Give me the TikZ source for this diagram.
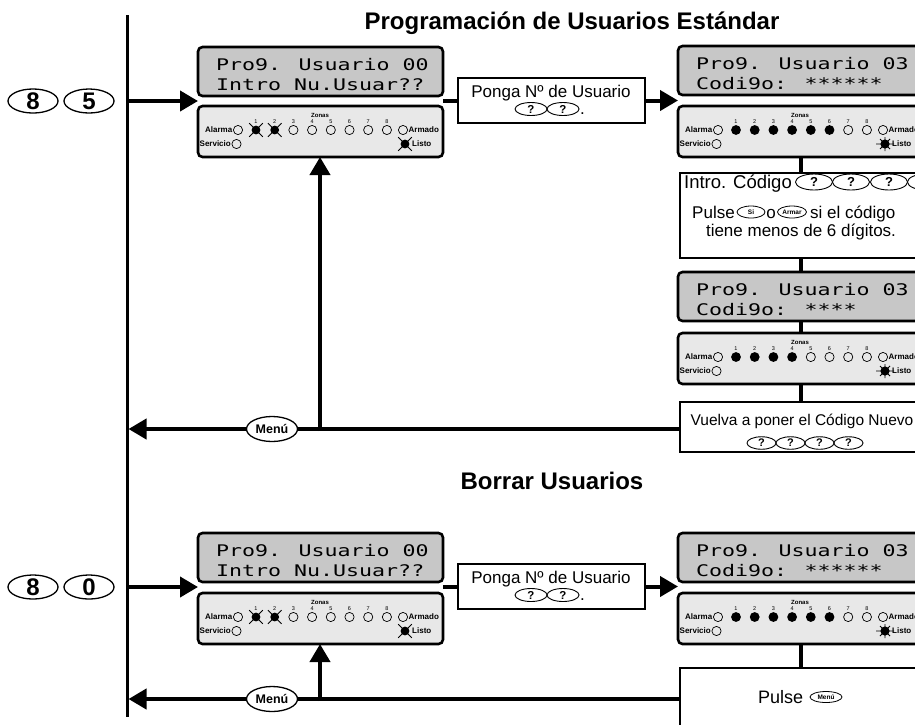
\documentclass[tikz,border=0pt]{standalone}
\usepackage{fontspec}
\setmainfont{Liberation Sans}
\newfontfamily\lcdfont{DejaVu Sans Mono}
\usepackage{graphicx}
\usetikzlibrary{arrows.meta,calc,shapes.geometric}

\tikzset{
  lcd/.style={draw=black, line width=2.6pt, fill=black!22, rounded corners=4.5pt,
    minimum width=245pt, minimum height=49pt, inner sep=0pt, outer sep=0pt, anchor=north west},
  ledp/.style={draw=black, line width=2.6pt, fill=black!9, rounded corners=4.5pt,
    minimum width=245pt, minimum height=51pt, inner sep=0pt, outer sep=0pt, anchor=north west},
  wbox/.style={draw=black, line width=1.3pt, fill=white, inner sep=0pt, outer sep=0pt, anchor=north west},
  keybtn/.style={ellipse, draw=black, line width=1.3pt, fill=white, inner sep=0pt,
    minimum width=50pt, minimum height=24pt, font=\bfseries\fontsize{24}{24}\selectfont},
  qkey/.style={ellipse, draw=black, line width=0.9pt, fill=white, inner sep=0pt,
    minimum width=32pt, minimum height=13pt, font=\bfseries\fontsize{11.5}{11.5}\selectfont},
  menukey/.style={ellipse, draw=black, line width=1.3pt, fill=white, inner sep=0pt,
    minimum width=51pt, minimum height=25pt, font=\bfseries\fontsize{12.5}{12.5}\selectfont},
  tinykey/.style={ellipse, draw=black, line width=0.8pt, fill=white, inner sep=0pt,
    minimum width=28pt, minimum height=12pt, font=\bfseries\fontsize{6.5}{6.5}\selectfont},
  btxt/.style={inner sep=0pt, anchor=base, font=\fontsize{17}{17}\selectfont},
  ttl/.style={inner sep=0pt, anchor=base, font=\bfseries\fontsize{24}{24}\selectfont},
  lcdtxt/.style={inner sep=0pt, anchor=base west, font=\lcdfont\fontsize{16}{16}\selectfont},
  bigarrow/.style={line width=4pt, -{Triangle[length=18pt,width=20pt]}},
  thickline/.style={line width=4pt},
  mainline/.style={line width=3pt},
  zonas/.style={inner sep=0pt, font=\bfseries\fontsize{6}{6}\selectfont},
  znum/.style={inner sep=0pt, font=\fontsize{5.5}{5.5}\selectfont},
  ledlab/.style={inner sep=0pt, font=\bfseries\fontsize{8}{8}\selectfont},
  lampline/.style={line width=0.7pt},
  rayline/.style={line width=0.9pt}
}

% lamp: x, y, state (0 open, 1 lit, 2 flashing, 3 lit with rays)
\newcommand{\lamp}[3]{%
  \ifcase#3\relax
    \draw[lampline] (#1,#2) circle[radius=4.6pt];%
  \or
    \fill (#1,#2) circle[radius=4.9pt];%
  \or
    \fill (#1,#2) circle[radius=4.4pt];%
    \draw[rayline,shift={(#1,#2)}] (-6.8pt,-6.8pt)--(6.8pt,6.8pt) (-6.8pt,6.8pt)--(6.8pt,-6.8pt);%
  \or
    \fill (#1,#2) circle[radius=4.6pt];%
    \draw[rayline,shift={(#1,#2)}] (-9pt,0pt)--(9pt,0pt) (0pt,-7pt)--(0pt,7pt)
      (-5pt,-5pt)--(5pt,5pt) (-5pt,5pt)--(5pt,-5pt);%
  \fi}

% LED panel content: panel name, 8 zone states, listo state
\newcommand{\ledstuff}[3]{%
  \begin{scope}[shift={(#1.north west)}]
    \node[zonas] (#1z) at (122,9) {Zonas};
    \foreach \st [count=\i] in {#2} {%
      \pgfmathsetmacro{\xx}{58+18.7*(\i-1)}%
      \node[znum] (#1n\i) at (\xx,16) {\i};%
      \lamp{\xx}{24}{\st}%
    }
    \node[ledlab,anchor=east] (#1al) at (34.5,24) {Alarma};
    \lamp{40}{24}{0}
    \node[ledlab,anchor=east] (#1sv) at (33,38) {Servicio};
    \lamp{38.5}{38}{0}
    \lamp{205}{24}{0}
    \node[ledlab,anchor=west] (#1ar) at (210.5,24) {Armado};
    \lamp{207}{38}{#3}
    \node[ledlab,anchor=west] (#1ls) at (214,38) {Listo};
  \end{scope}}

% LCD text: panel name, line 1, line 2
\newcommand{\lcdtext}[3]{%
  \node[lcdtxt] (#1a) at ($(#1.north west)+(18,23)$) {\scalebox{1.35}[1]{#2}};
  \node[lcdtxt] (#1b) at ($(#1.north west)+(18,43)$) {\scalebox{1.35}[1]{#3}};}

\begin{document}
\begin{tikzpicture}[x=1pt,y=-1pt]
\useasboundingbox (0,0) rectangle (915,724);
\clip (0,0) rectangle (915,724);
\fill[white] (0,0) rectangle (915,724);

% titles
\node[ttl] (t1) at (572,29) {Programación de Usuarios Estándar};
\node[ttl] (t2) at (552,489) {Borrar Usuarios};

% main vertical line
\coordinate (mtop) at (127,15);
\coordinate (mbot) at (127,717);
\draw[mainline] (mtop) -- (mbot);

% ---------- top section ----------
\node[keybtn] (k8a) at (33,101) {8};
\node[keybtn] (k5a) at (89,101) {5};

\node[lcd] (lcdA) at (198,47) {};
\node[ledp] (ledA) at (198,106) {};
\node[wbox, minimum width=187pt, minimum height=45pt] (pongaA) at (458,78) {};
\node[lcd] (lcdB) at (678,46) {};
\node[ledp] (ledB) at (678,106) {};
\node[wbox, minimum width=241pt, minimum height=85pt] (intro) at (680,173) {};
\node[lcd] (lcdC) at (678,272) {};
\node[ledp] (ledC) at (678,333) {};
\node[wbox, minimum width=241pt, minimum height=50pt] (vuelva) at (680,402) {};

\lcdtext{lcdA}{Pro9. Usuario 00}{Intro Nu.Usuar??}
\lcdtext{lcdB}{Pro9. Usuario 03}{Codi9o: ******}
\lcdtext{lcdC}{Pro9. Usuario 03}{Codi9o: ****}
\ledstuff{ledA}{2,2,0,0,0,0,0,0}{2}
\ledstuff{ledB}{1,1,1,1,1,1,0,0}{3}
\ledstuff{ledC}{1,1,1,1,0,0,0,0}{3}

\coordinate (ka) at (127,101);
\draw[bigarrow] (ka) -- (ka -| lcdA.west);
\draw[thickline] (lcdA.east |- pongaA.west) -- (pongaA.west);
\draw[bigarrow] (pongaA.east) -- (pongaA.east -| lcdB.west);
\draw[thickline] (ledB.south) -- (intro.north);
\draw[thickline] (intro.south) -- (lcdC.north);
\draw[thickline] (lcdC.south) -- (ledC.north);
\draw[thickline] (ledC.south) -- (vuelva.north);

\coordinate (ua) at (320,429);
\draw[bigarrow, shorten >=1.5pt] (vuelva.west |- ua) -- (ua -| mtop);
\draw[bigarrow] ([yshift=-2pt]ua) -- (ua |- ledA.south);
\node[menukey] (menuA) at (272,429) {Menú};

% box texts
\node[btxt] (pA1) at (551,97) {Ponga Nº de Usuario};
\node[qkey] (pAq1) at (531,109) {?};
\node[qkey] (pAq2) at (563,109) {?};
\node[btxt, anchor=base west] (pAdot) at (580,114) {.};

\node[btxt, anchor=base east, font=\fontsize{18.5}{18.5}\selectfont] (i1) at (792,188) {Intro. Código};
\foreach \j/\xc in {1/814,2/851,3/889,4/926}
  \node[qkey, minimum width=37pt, minimum height=16pt, font=\bfseries\fontsize{13}{13}\selectfont] (iq\j) at (\xc,182) {?};
\node[btxt, anchor=base west] (i2a) at (692,218) {Pulse};
\node[tinykey] (isi) at (751,212) {Si};
\node[btxt] (i2b) at (771,218) {o};
\node[tinykey, minimum width=29pt] (iarm) at (792,212) {Armar};
\node[btxt, anchor=base west] (i2c) at (810,218) {si el código};
\node[btxt] (i3) at (801,236) {tiene menos de 6 dígitos.};

\node[btxt, font=\fontsize{15.5}{15.5}\selectfont] (v1) at (802,425) {Vuelva a poner el Código Nuevo};
\foreach \j/\xc in {1/761.5,2/790.5,3/819.5,4/848.5}
  \node[qkey, minimum width=29pt, minimum height=12.5pt, font=\bfseries\fontsize{11}{11}\selectfont] (vq\j) at (\xc,443) {?};

% ---------- bottom section ----------
\node[keybtn] (k8b) at (33,587) {8};
\node[keybtn] (k0b) at (89,587) {0};

\node[lcd] (lcdD) at (198,533) {};
\node[ledp] (ledD) at (198,593) {};
\node[wbox, minimum width=187pt, minimum height=45pt] (pongaB) at (458,564) {};
\node[lcd] (lcdE) at (678,533) {};
\node[ledp] (ledE) at (678,593) {};
\node[wbox, minimum width=241pt, minimum height=80pt] (pulse) at (680,668) {};

\lcdtext{lcdD}{Pro9. Usuario 00}{Intro Nu.Usuar??}
\lcdtext{lcdE}{Pro9. Usuario 03}{Codi9o: ******}
\ledstuff{ledD}{2,2,0,0,0,0,0,0}{2}
\ledstuff{ledE}{1,1,1,1,1,1,0,0}{3}

\coordinate (kb) at (127,587);
\draw[bigarrow] (kb) -- (kb -| lcdD.west);
\draw[thickline] (lcdD.east |- pongaB.west) -- (pongaB.west);
\draw[bigarrow] (pongaB.east) -- (pongaB.east -| lcdE.west);
\draw[thickline] (ledE.south) -- (pulse.north);

\coordinate (ub) at (320,699);
\draw[bigarrow, shorten >=1.5pt] (pulse.west |- ub) -- (ub -| mtop);
\draw[bigarrow] ([yshift=-2pt]ub) -- (ub |- ledD.south);
\node[menukey] (menuB) at (272,699) {Menú};

\node[btxt] (pB1) at (551,583) {Ponga Nº de Usuario};
\node[qkey] (pBq1) at (531,595) {?};
\node[qkey] (pBq2) at (563,595) {?};
\node[btxt, anchor=base west] (pBdot) at (580,600) {.};

\node[btxt, anchor=base west, font=\fontsize{18}{18}\selectfont] (pl1) at (758,703) {Pulse};
\node[tinykey, minimum width=32pt, minimum height=11pt] (plm) at (826,697) {Menú};
\end{tikzpicture}
\end{document}
